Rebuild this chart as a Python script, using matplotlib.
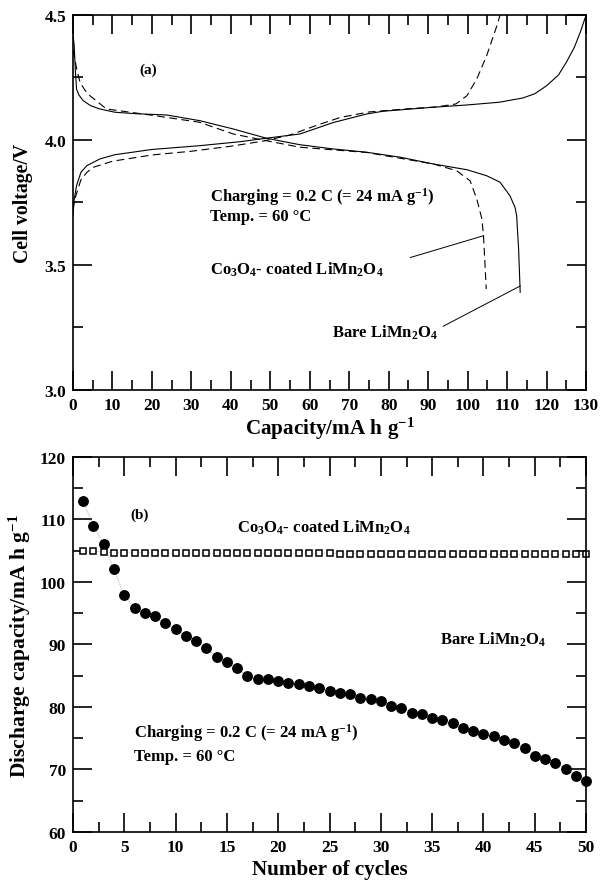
import matplotlib
matplotlib.use('Agg')
import matplotlib.pyplot as plt
from matplotlib.ticker import MultipleLocator, FormatStrFormatter

plt.rcParams['font.family'] = ['Liberation Serif', 'DejaVu Serif']
plt.rcParams['font.weight'] = 'bold'
plt.rcParams['mathtext.fontset'] = 'custom'
plt.rcParams['mathtext.rm'] = 'Liberation Serif:bold'
plt.rcParams['mathtext.it'] = 'Liberation Serif:bold:italic'
plt.rcParams['mathtext.bf'] = 'Liberation Serif:bold'

# ---- panel (a): charge / discharge curves ----
bare_chg_cap = [0.0, 0.3, 0.9, 2.0, 3.5, 6.8, 10.6, 20, 32, 42.3, 49, 57.5, 66, 74.4, 78.6,
                91.3, 99.8, 108, 114, 117, 120, 123, 125, 127, 128.5, 130]
bare_chg_v = [3.70, 3.76, 3.817, 3.87, 3.897, 3.924, 3.941, 3.962, 3.977, 3.993, 4.007, 4.024,
              4.07, 4.104, 4.115, 4.131, 4.14, 4.151, 4.168, 4.185, 4.217, 4.26, 4.311, 4.37,
              4.43, 4.5]
coat_chg_cap = [0.0, 0.4, 1.0, 2.0, 3.5, 5, 10, 20, 30, 40, 48, 55, 62, 67.7, 75, 85, 92, 97,
                99.8, 102.3, 104.8, 107.4, 108.2]
coat_chg_v = [3.72, 3.76, 3.79, 3.84, 3.87, 3.89, 3.915, 3.94, 3.955, 3.975, 3.995, 4.02, 4.06,
              4.09, 4.112, 4.125, 4.132, 4.144, 4.177, 4.244, 4.337, 4.457, 4.5]
bare_dis_cap = [0.0, 0.3, 0.6, 0.9, 1.5, 2.6, 4.5, 6.8, 10.6, 16, 23.7, 32.2, 40.6, 49, 57.5,
                66, 74.4, 82.9, 91.3, 99.8, 104.8, 108.2, 110.7, 112.0, 112.4, 112.9, 113.3]
bare_dis_v = [4.42, 4.38, 4.28, 4.204, 4.18, 4.157, 4.137, 4.124, 4.111, 4.105, 4.1, 4.077,
              4.044, 4.007, 3.981, 3.964, 3.951, 3.931, 3.904, 3.881, 3.857, 3.831, 3.777, 3.73,
              3.697, 3.564, 3.391]
coat_dis_cap = [0.0, 0.4, 1.0, 1.8, 3.0, 4.3, 8.5, 19.5, 32, 40.6, 49, 57.5, 74.4, 91.3, 97.2,
                100.6, 102.3, 103.6, 104.0, 104.4, 104.7]
coat_dis_v = [4.36, 4.33, 4.28, 4.23, 4.20, 4.177, 4.124, 4.1, 4.071, 4.024, 3.997, 3.971,
              3.95, 3.904, 3.877, 3.837, 3.764, 3.684, 3.617, 3.497, 3.404]

# ---- panel (b): cycling ----
cycles = list(range(1, 51))
bare_cap = [112.9, 108.9, 106.0, 102.0, 97.9, 95.9, 95.0, 94.5, 93.4, 92.4,
            91.4, 90.6, 89.4, 88.0, 87.2, 86.2, 84.9, 84.5, 84.5, 84.2,
            83.9, 83.7, 83.4, 83.0, 82.6, 82.3, 82.0, 81.5, 81.3, 80.9,
            80.2, 79.9, 79.1, 78.9, 78.3, 77.9, 77.4, 76.6, 76.2, 75.7,
            75.3, 74.7, 74.2, 73.4, 72.2, 71.7, 71.0, 70.1, 69.0, 68.1]
coat_cap = [105.0, 104.9, 104.8, 104.7, 104.7, 104.7, 104.7, 104.6, 104.6, 104.6,
            104.6, 104.6, 104.6, 104.6, 104.6, 104.6, 104.6, 104.6, 104.6, 104.6,
            104.6, 104.6, 104.6, 104.6, 104.6, 104.5, 104.5, 104.5, 104.5, 104.5,
            104.5, 104.5, 104.5, 104.5, 104.5, 104.5, 104.5, 104.5, 104.5, 104.5,
            104.4, 104.4, 104.4, 104.4, 104.4, 104.4, 104.4, 104.4, 104.4, 104.4]

CHG = 'Charging = 0.2 C (= 24 mA g$^{-1}$)'
TMP = 'Temp. = 60 °C'
COAT = 'Co$_3$O$_4$- coated LiMn$_2$O$_4$'
BARE = 'Bare LiMn$_2$O$_4$'
FS = 12

fig = plt.figure(figsize=(6.03, 8.87), dpi=100)
ax1 = fig.add_axes([0.121, 0.5592, 0.851, 0.4228])
ax2 = fig.add_axes([0.121, 0.0609, 0.851, 0.4228])


def style(ax):
    ax.tick_params(which='both', direction='in', top=True, right=True, width=1.2,
                   color='black', labelsize=12.5, pad=5)
    ax.tick_params(which='major', length=14)
    ax.tick_params(which='minor', length=7)
    for s in ax.spines.values():
        s.set_linewidth(1.2)
    for lab in ax.get_xticklabels() + ax.get_yticklabels():
        lab.set_fontweight('bold')


ax1.plot(bare_chg_cap, bare_chg_v, color='black', lw=0.8)
ax1.plot(bare_dis_cap, bare_dis_v, color='black', lw=0.8)
ax1.plot(coat_chg_cap, coat_chg_v, color='black', lw=0.8, ls=(0, (7, 4)))
ax1.plot(coat_dis_cap, coat_dis_v, color='black', lw=0.8, ls=(0, (7, 4)))
ax1.set_xlim(0, 130)
ax1.set_ylim(3.0, 4.5)
ax1.xaxis.set_major_locator(MultipleLocator(10))
ax1.xaxis.set_minor_locator(MultipleLocator(5))
ax1.yaxis.set_major_locator(MultipleLocator(0.5))
ax1.yaxis.set_minor_locator(MultipleLocator(0.25))
ax1.yaxis.set_major_formatter(FormatStrFormatter('%.1f'))
style(ax1)
ax1.set_xlabel('Capacity/mA h g$^{-1}$', fontsize=15.2, fontweight='bold', labelpad=1)
ax1.set_ylabel('Cell voltage/V', fontsize=14.2, fontweight='bold', labelpad=8)
ax1.text(19, 4.284, '(a)', fontsize=11, ha='center', va='center')
ax1.text(34.7, 3.776, CHG, fontsize=FS, va='center')
ax1.text(34.7, 3.696, TMP, fontsize=FS, va='center')
ax1.text(34.7, 3.484, COAT, fontsize=FS, va='center')
ax1.text(65.6, 3.232, BARE, fontsize=FS, va='center')
ax1.plot([85.5, 104.0], [3.53, 3.617], color='black', lw=0.7)
ax1.plot([93.8, 113.3], [3.255, 3.416], color='black', lw=0.7)

ax2.plot(cycles, bare_cap, color='#888888', lw=0.6, ls=':')
ax2.plot(cycles, bare_cap, 'o', color='black', ms=6.8, clip_on=False)
ax2.plot(cycles, coat_cap, color='#888888', lw=0.5, ls=':')
ax2.plot(cycles, coat_cap, 's', mfc='white', mec='black', mew=1.1, ms=4.0, clip_on=False)
ax2.set_xlim(0, 50)
ax2.set_ylim(60, 120)
ax2.xaxis.set_major_locator(MultipleLocator(5))
ax2.xaxis.set_minor_locator(MultipleLocator(2.5))
ax2.yaxis.set_major_locator(MultipleLocator(10))
ax2.yaxis.set_minor_locator(MultipleLocator(5))
style(ax2)
ax2.set_xlabel('Number of cycles', fontsize=15.2, fontweight='bold', labelpad=3)
ax2.set_ylabel('Discharge capacity/mA h g$^{-1}$', fontsize=15.5, fontweight='bold', labelpad=5)
ax2.text(6.5, 110.9, '(b)', fontsize=11, ha='center', va='center')
ax2.text(16.0, 108.8, COAT, fontsize=FS, va='center')
ax2.text(35.8, 90.9, BARE, fontsize=FS, va='center')
ax2.text(5.9, 76.0, CHG, fontsize=FS, va='center')
ax2.text(5.9, 72.2, TMP, fontsize=FS, va='center')

fig.savefig('out.png', dpi=100)
